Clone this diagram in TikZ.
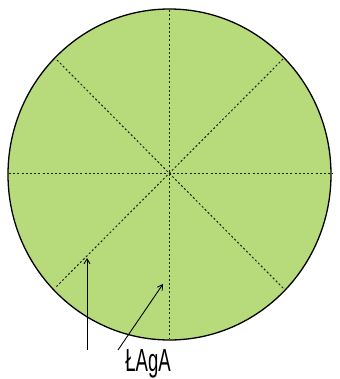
\documentclass[tikz,border=0pt]{standalone}
\usepackage{fontspec}
\setmainfont{Liberation Sans}
\usetikzlibrary{arrows.meta,shapes.geometric}
\definecolor{leaf}{RGB}{183,219,122}
\definecolor{dotc}{RGB}{30,35,20}
\tikzset{
  rim/.style={draw=black,line width=1.3pt,fill=leaf},
  spoke/.style={draw=dotc,line width=1pt,dash pattern=on 2pt off 2.2pt},
  pointer/.style={draw=black,line width=0.9pt,-{Straight Barb[length=5pt,width=6pt]}},
  lbl/.style={font=\fontsize{32}{32}\selectfont,xscale=0.58,inner sep=0pt}
}
\begin{document}
\begin{tikzpicture}[x=1pt,y=-1pt]
\useasboundingbox (0,0) rectangle (339,379);
\node[rim,ellipse,minimum width=323pt,minimum height=331pt,inner sep=0pt] (c) at (169.5,174.5) {};
\coordinate (t) at (169.5,10);
\coordinate (b) at (169.5,339);
\coordinate (l) at (9,173);
\coordinate (r) at (333,173);
\coordinate (ul) at (57,60);
\coordinate (ur) at (283,59);
\coordinate (dl) at (55,288);
\coordinate (dr) at (284,289);
\draw[spoke] (t) -- (b);
\draw[spoke] (l) -- (r);
\draw[spoke] (ul) -- (dr);
\draw[spoke] (ur) -- (dl);
\coordinate (a1s) at (87,350);
\coordinate (a1e) at (87,258);
\coordinate (a2s) at (118,350);
\coordinate (a2e) at (163,284);
\draw[pointer] (a1s) -- (a1e);
\draw[pointer] (a2s) -- (a2e);
\node[lbl] (name) at (148,364) {ŁAgA};
\end{tikzpicture}
\end{document}
